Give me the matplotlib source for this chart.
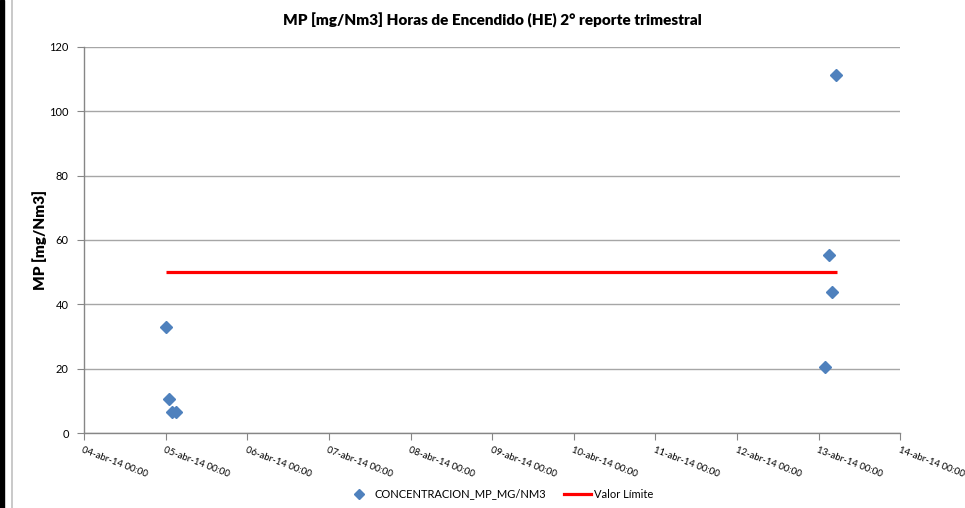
import matplotlib
matplotlib.use("Agg")
import matplotlib.pyplot as plt
import matplotlib.dates as mdates
from matplotlib.lines import Line2D
from matplotlib.patches import Rectangle
from datetime import datetime

plt.rcParams['font.family'] = ['Lato', 'DejaVu Sans']

# Data
times = ["2014-04-05 00:00", "2014-04-05 01:00", "2014-04-05 02:00", "2014-04-05 03:00",
         "2014-04-13 02:00", "2014-04-13 03:00", "2014-04-13 04:00", "2014-04-13 05:00"]
conc = [33.0, 10.7, 6.5, 6.5, 20.7, 55.3, 43.9, 111.3]
limit_times = ["2014-04-05 00:00", "2014-04-13 05:15"]
limit_values = [50, 50]
x_ticks = ["2014-04-%02d 00:00" % d for d in range(4, 15)]
y_ticks = [0, 20, 40, 60, 80, 100, 120]

title = "MP [mg/Nm3] Horas de Encendido (HE) 2° reporte trimestral"
ylabel = "MP [mg/Nm3]"
series_name = "CONCENTRACION_MP_MG/NM3"
limit_name = "Valor Límite"

fmt = "%Y-%m-%d %H:%M"
tx = [datetime.strptime(t, fmt) for t in times]
lx = [datetime.strptime(t, fmt) for t in limit_times]
xt = [datetime.strptime(t, fmt) for t in x_ticks]

W, H = 965, 508
fig = plt.figure(figsize=(W / 100, H / 100), dpi=100)
ax = fig.add_axes([84 / W, 1 - 433.3 / H, (900.3 - 84) / W, (433.3 - 46.7) / H])

ax.plot(lx, limit_values, color='#FF0000', lw=2.3, zorder=3, solid_capstyle='butt')
ax.plot(tx, conc, linestyle='none', marker='D', markersize=6.0, color='#4F81BD',
        markeredgecolor='#4F81BD', zorder=4)

ax.set_xlim(xt[0], xt[-1])
ax.set_ylim(0, 120)
ax.set_yticks(y_ticks)
ax.set_xticks(xt)
ax.xaxis.set_major_formatter(mdates.DateFormatter('%d-abr-%y %H:%M'))
for lab in ax.get_xticklabels():
    lab.set_rotation(-21)
    lab.set_ha('left')
    lab.set_va('top')
    lab.set_rotation_mode('anchor')
    lab.set_fontsize(6.9)
ax.tick_params(axis='y', labelsize=8, length=5, color='#868686', pad=6)
ax.tick_params(axis='x', length=5, color='#868686', pad=4)

ax.grid(axis='y', color='#A6A6A6', lw=1.0)
ax.set_axisbelow(True)
for s in ['top', 'right']:
    ax.spines[s].set_visible(False)
for s in ['left', 'bottom']:
    ax.spines[s].set_color('#868686')
    ax.spines[s].set_linewidth(1.0)

fig.text(492 / W, 1 - 20 / H, title, ha='center', va='center', fontsize=11, fontweight='heavy')
fig.text(40 / W, 1 - 240 / H, ylabel, ha='center', va='center', rotation=90,
         fontsize=11, fontweight='heavy')

handles = [Line2D([], [], linestyle='none', marker='D', markersize=5.5, color='#4F81BD'),
           Line2D([], [], color='#FF0000', lw=2.3)]
fig.legend(handles, [series_name, limit_name], loc='center', bbox_to_anchor=(499 / W, 1 - 494 / H),
           ncol=2, frameon=False, fontsize=8, handlelength=2.4, columnspacing=1.6, handletextpad=0.25)

# left border strip
fig.patches.append(Rectangle((0, 0), 3.5 / W, 1, transform=fig.transFigure, color='black', zorder=10))
fig.lines.append(Line2D([11.5 / W, 11.5 / W], [0, 1], transform=fig.transFigure, color='#C0C0C0', lw=1.2))

fig.savefig("out.png", dpi=100)
